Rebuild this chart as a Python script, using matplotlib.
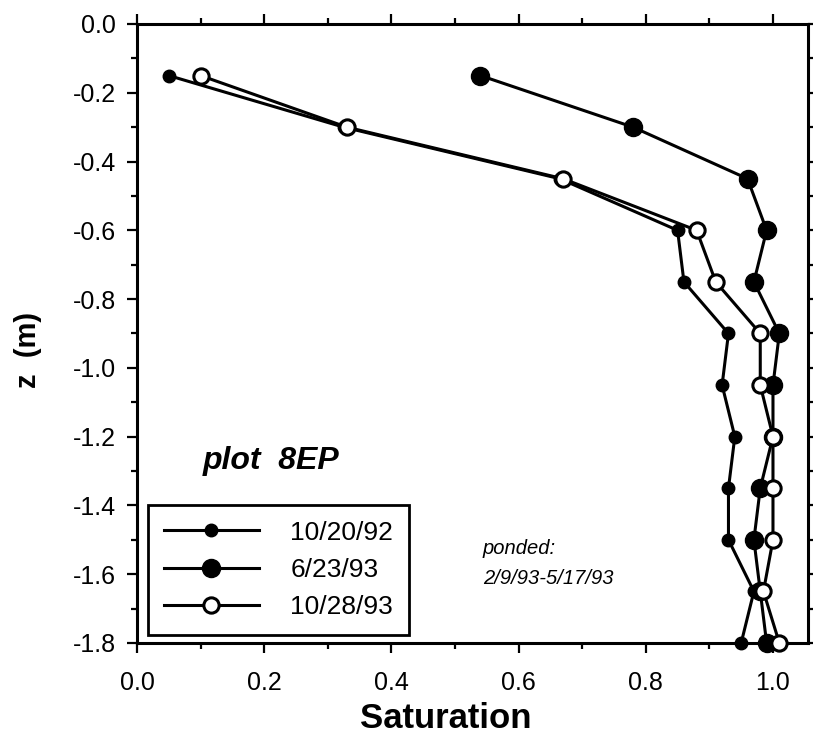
import matplotlib.pyplot as plt
from matplotlib.ticker import MultipleLocator

plt.rcParams['font.family'] = ['Liberation Sans', 'DejaVu Sans']

# depth below surface (m) and saturation for each sampling date
depth = [-0.15, -0.30, -0.45, -0.60, -0.75, -0.90, -1.05, -1.20, -1.35, -1.50, -1.65, -1.80]
sat_921020 = [0.05, 0.325, 0.665, 0.85, 0.86, 0.93, 0.92, 0.94, 0.93, 0.93, 0.97, 0.95]
sat_930623 = [0.54, 0.78, 0.96, 0.99, 0.97, 1.01, 1.00, 1.00, 0.98, 0.97, 0.98, 0.99]
sat_931028 = [0.10, 0.33, 0.67, 0.88, 0.91, 0.98, 0.98, 1.00, 1.00, 1.00, 0.985, 1.01]
labels = ['10/20/92', '6/23/93', '10/28/93']

fig = plt.figure(figsize=(8.13, 7.36), dpi=100)
ax = fig.add_axes([0.1685, 0.1264, 0.8253, 0.841])

lw = 2.2
ax.plot(sat_921020, depth, '-o', color='black', lw=lw, ms=9,
        label=labels[0], clip_on=False, zorder=3)
ax.plot(sat_930623, depth, '-o', color='black', lw=lw, ms=13,
        label=labels[1], clip_on=False, zorder=4)
ax.plot(sat_931028, depth, '-o', color='black', mfc='white', mec='black',
        mew=2.2, lw=lw, ms=11, label=labels[2], clip_on=False, zorder=5)

ax.set_xlim(0, 1.055)
ax.set_ylim(-1.8, 0)
ax.xaxis.set_minor_locator(MultipleLocator(0.1))
ax.yaxis.set_minor_locator(MultipleLocator(0.1))
ax.set_xticks([0, 0.2, 0.4, 0.6, 0.8, 1.0])
ax.set_xticklabels(['0.0', '0.2', '0.4', '0.6', '0.8', '1.0'])
ax.set_yticks([0, -0.2, -0.4, -0.6, -0.8, -1.0, -1.2, -1.4, -1.6, -1.8])
ax.set_yticklabels(['0.0', '-0.2', '-0.4', '-0.6', '-0.8', '-1.0',
                    '-1.2', '-1.4', '-1.6', '-1.8'])

ax.tick_params(which='both', direction='out', top=True, right=True,
               width=1.6, colors='black')
ax.tick_params(which='major', length=7, labelsize=18)
ax.tick_params(which='minor', length=4)
ax.tick_params(axis='x', which='major', pad=13)
ax.tick_params(axis='y', which='major', pad=8)
for s in ax.spines.values():
    s.set_linewidth(2.2)

# axis titles placed by hand so they stay inside the canvas
fig.text(446 / 813, 1 - 728 / 736, 'Saturation', fontsize=25,
         fontweight='bold', ha='center', va='baseline')
fig.text(14 / 813, 1 - 350 / 736, 'z  (m)', fontsize=21, fontweight='bold',
         rotation=90, ha='left', va='center')

ax.text(0.104, -1.27, 'plot  8EP', fontsize=23, fontweight='bold',
        style='italic', va='center', ha='left')
ax.text(0.544, -1.525, 'ponded:', fontsize=14.5, style='italic',
        va='center', ha='left')
ax.text(0.544, -1.613, '2/9/93-5/17/93', fontsize=14.5, style='italic',
        va='center', ha='left')

leg = ax.legend(loc='lower left', bbox_to_anchor=(0.016, 0.013),
                borderaxespad=0, fontsize=19, handlelength=3.6,
                handletextpad=1.2, labelspacing=0.5, borderpad=0.6,
                fancybox=False, framealpha=1)
leg.get_frame().set_edgecolor('black')
leg.get_frame().set_linewidth(2.0)

plt.savefig('out.png', dpi=100)
